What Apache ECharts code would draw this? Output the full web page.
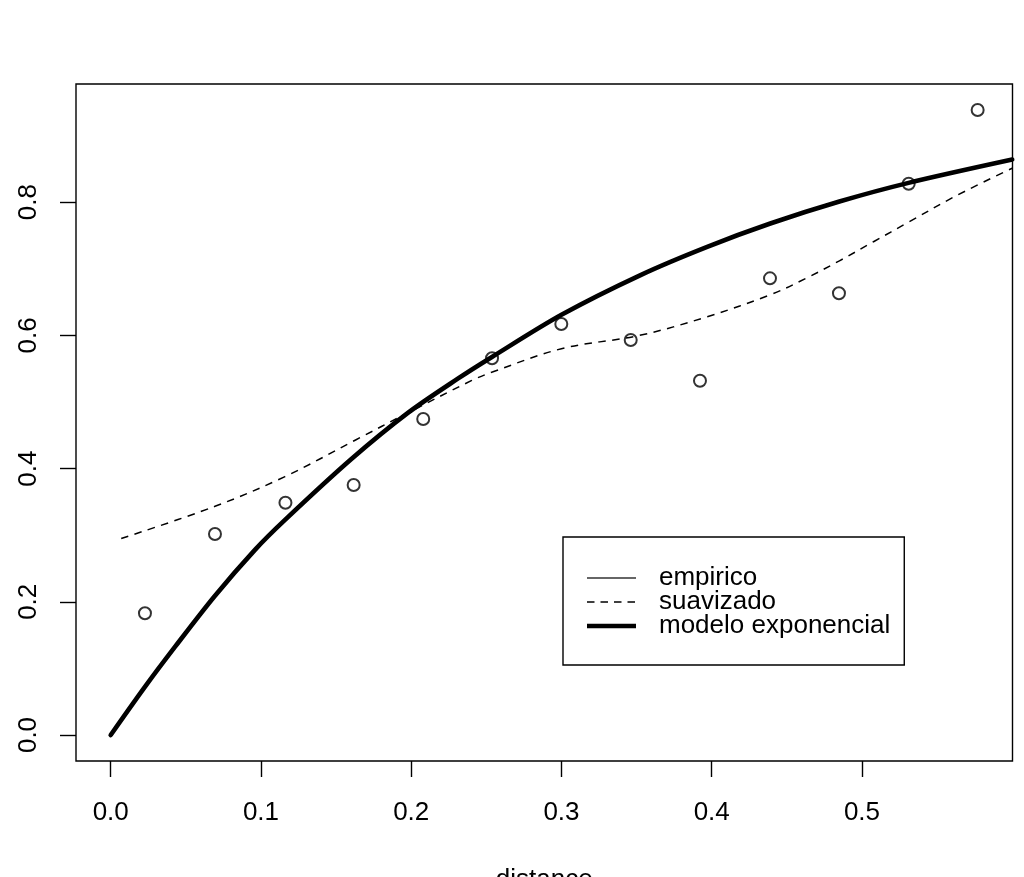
<!DOCTYPE html>
<html>
<head>
<meta charset="utf-8">
<title>variograma</title>
<script src="https://cdn.jsdelivr.net/npm/echarts@6/dist/echarts.min.js"></script>
<style>
    html, body { margin: 0; padding: 0; background: #fff; }
    #main { width: 1024px; height: 877px; }
</style>
</head>
<body>
<div id="main"></div>
<script>
// semivariograma empirico (puntos)
var empDist  = [0.0228, 0.0694, 0.1163, 0.1617, 0.2080, 0.2538, 0.2999, 0.3461, 0.3922, 0.4388, 0.4847, 0.5311, 0.5770];
var empGamma = [0.1827, 0.3018, 0.3488, 0.3754, 0.4745, 0.5656, 0.6171, 0.5931, 0.5320, 0.6857, 0.6632, 0.8278, 0.9384];

// curva suavizada
var smoothDist  = [0.007, 0.069, 0.116, 0.163, 0.198, 0.240, 0.254, 0.300, 0.352, 0.397, 0.439, 0.463, 0.485, 0.508, 0.531, 0.563, 0.600];
var smoothGamma = [0.295, 0.343, 0.388, 0.443, 0.484, 0.532, 0.545, 0.580, 0.600, 0.628, 0.661, 0.686, 0.712, 0.741, 0.770, 0.810, 0.851];

// modelo exponencial ajustado
var modelDist  = [0, 0.023, 0.043, 0.069, 0.096, 0.116, 0.160, 0.198, 0.231, 0.254, 0.300, 0.353, 0.397, 0.439, 0.485, 0.531, 0.600];
var modelGamma = [0, 0.073, 0.133, 0.208, 0.278, 0.323, 0.414, 0.484, 0.535, 0.568, 0.631, 0.691, 0.733, 0.768, 0.801, 0.829, 0.864];

var xTicks = [0, 0.1, 0.2, 0.3, 0.4, 0.5];
var yTicks = [0, 0.2, 0.4, 0.6, 0.8];

var fontName = '"Liberation Sans", Arial, sans-serif';

function zip(xs, ys) {
    var out = [];
    for (var i = 0; i < xs.length; i++) {
        out.push([xs[i], ys[i]]);
    }
    return out;
}

// iconos de la leyenda: caja de 67x5, linea de 49 de ancho
var iconThin   = 'path://M0 0M67 5M0 1.85H49V3.15H0Z';
var iconDashed = 'path://M0 0M67 5M0 1.85H7.5V3.15H0ZM13.5 1.85H21V3.15H13.5ZM27 1.85H34.5V3.15H27ZM40.5 1.85H48V3.15H40.5Z';
var iconThick  = 'path://M0 0M67 5M0 0.2H49V4.8H0Z';

var myChart = echarts.init(document.getElementById('main'));

var option = {
    animation: false,
    backgroundColor: '#fff',
    textStyle: { fontFamily: fontName, color: '#000' },
    grid: {
        show: true,
        left: 76,
        top: 84,
        right: 11.5,
        bottom: 116,
        outerBoundsMode: 'none',
        containLabel: false,
        borderColor: '#000',
        borderWidth: 1.4
    },
    legend: {
        left: 563,
        top: 537,
        orient: 'vertical',
        selectedMode: false,
        itemWidth: 67,
        itemHeight: 5,
        itemGap: -2,
        padding: [28, 14, 26, 24],
        borderColor: '#000',
        borderWidth: 1.4,
        backgroundColor: '#fff',
        textStyle: { fontFamily: fontName, fontSize: 26, color: '#000', lineHeight: 23.5 },
        data: [
            { name: 'empirico', icon: iconThin, itemStyle: { color: '#000' } },
            { name: 'suavizado', icon: iconDashed, itemStyle: { color: '#000' } },
            { name: 'modelo exponencial', icon: iconThick, itemStyle: { color: '#000' } }
        ]
    },
    xAxis: {
        type: 'value',
        min: -0.0231,
        max: 0.6002,
        name: 'distance',
        nameLocation: 'middle',
        nameGap: 119,
        nameTextStyle: { fontFamily: fontName, fontSize: 26, color: '#000', verticalAlign: 'middle' },
        axisLine: { show: false, onZero: false },
        splitLine: { show: false },
        axisTick: {
            show: true,
            length: 16,
            customValues: xTicks,
            lineStyle: { color: '#000', width: 1.4 }
        },
        axisLabel: {
            customValues: xTicks,
            margin: 52,
            verticalAlign: 'middle',
            fontFamily: fontName,
            fontSize: 26,
            color: '#000',
            formatter: function (v) { return v.toFixed(1); }
        }
    },
    yAxis: {
        type: 'value',
        min: -0.03904,
        max: 0.97748,
        axisLine: { show: false, onZero: false },
        splitLine: { show: false },
        axisTick: {
            show: true,
            length: 16,
            customValues: yTicks,
            lineStyle: { color: '#000', width: 1.4 }
        },
        axisLabel: {
            customValues: yTicks,
            rotate: 90,
            margin: 47,
            align: 'center',
            verticalAlign: 'middle',
            fontFamily: fontName,
            fontSize: 26,
            color: '#000',
            formatter: function (v) { return v.toFixed(1); }
        }
    },
    series: [
        {
            name: 'empirico',
            type: 'scatter',
            z: 2,
            symbol: 'emptyCircle',
            symbolSize: 12,
            itemStyle: { color: '#000', borderWidth: 1.7 },
            data: zip(empDist, empGamma)
        },
        {
            name: 'suavizado',
            type: 'line',
            z: 3,
            smooth: 0.35,
            showSymbol: false,
            symbol: 'none',
            itemStyle: { color: '#000' },
            lineStyle: { color: '#000', width: 1.5, type: [7.5, 6.5] },
            data: zip(smoothDist, smoothGamma)
        },
        {
            name: 'modelo exponencial',
            type: 'line',
            z: 4,
            smooth: 0.3,
            showSymbol: false,
            symbol: 'none',
            itemStyle: { color: '#000' },
            lineStyle: { color: '#000', width: 4.6, cap: 'round' },
            data: zip(modelDist, modelGamma)
        }
    ]
};

myChart.setOption(option);
</script>
</body>
</html>
